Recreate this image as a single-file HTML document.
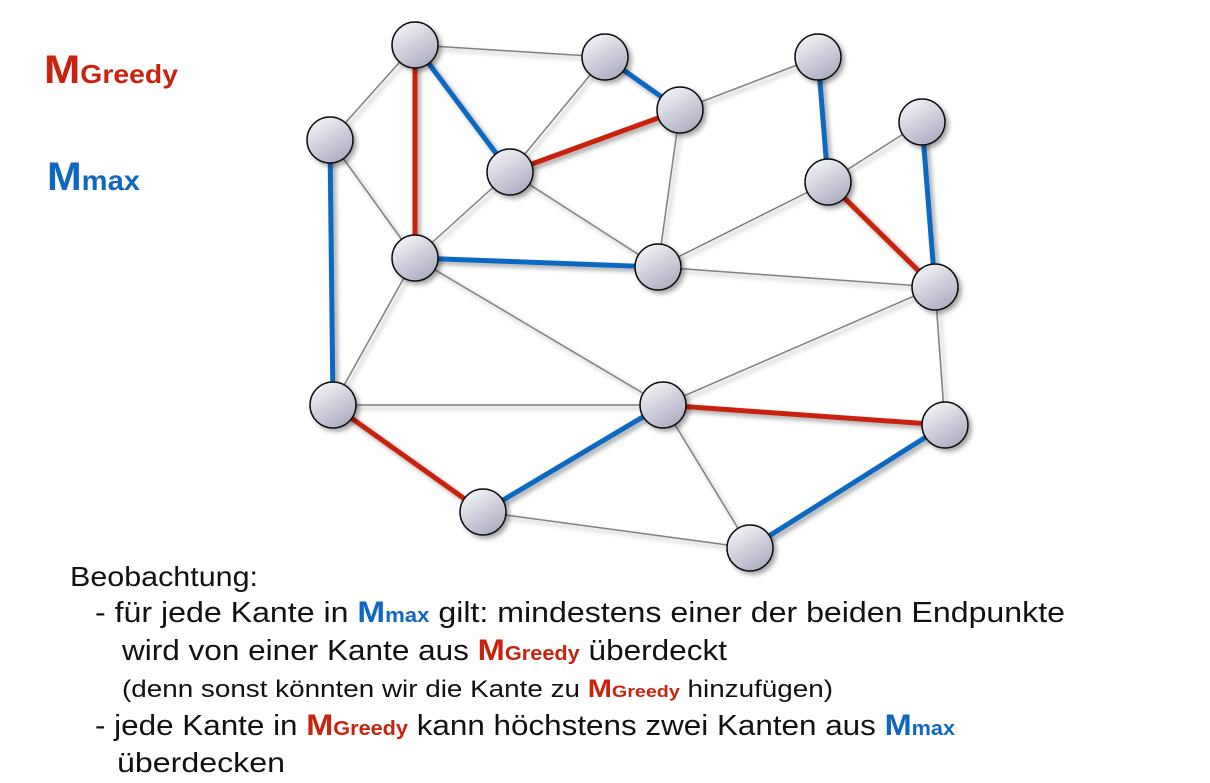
<!DOCTYPE html>
<html><head><meta charset="utf-8"><style>
html,body{margin:0;padding:0;background:#fff;}
svg{display:block;font-family:"Liberation Sans",sans-serif;}
</style></head><body>
<svg width="1210" height="783" viewBox="0 0 1210 783" xmlns="http://www.w3.org/2000/svg">
<defs>
<linearGradient id="g" x1="0.2" y1="0" x2="0.8" y2="1">
<stop offset="0" stop-color="#f4f4f8"/><stop offset="1" stop-color="#a9a9bf"/>
</linearGradient>
<filter id="s" x="-30%" y="-30%" width="170%" height="170%"><feDropShadow dx="3" dy="3" stdDeviation="2.5" flood-color="#000" flood-opacity="0.35"/></filter>
</defs>
<g stroke="#808080" stroke-width="1.5" filter="url(#s)">
<line x1="415" y1="45" x2="605" y2="57"/>
<line x1="415" y1="45" x2="330" y2="140"/>
<line x1="605" y1="57" x2="510" y2="172"/>
<line x1="680" y1="110" x2="818" y2="57"/>
<line x1="922" y1="122" x2="828" y2="182"/>
<line x1="828" y1="182" x2="658" y2="267"/>
<line x1="680" y1="110" x2="658" y2="267"/>
<line x1="510" y1="172" x2="658" y2="267"/>
<line x1="510" y1="172" x2="415" y2="258"/>
<line x1="330" y1="140" x2="415" y2="258"/>
<line x1="415" y1="258" x2="333" y2="405"/>
<line x1="415" y1="258" x2="663" y2="405"/>
<line x1="658" y1="267" x2="935" y2="287"/>
<line x1="935" y1="287" x2="663" y2="405"/>
<line x1="935" y1="287" x2="945" y2="425"/>
<line x1="333" y1="405" x2="663" y2="405"/>
<line x1="663" y1="405" x2="750" y2="548"/>
<line x1="483" y1="512" x2="750" y2="548"/>
</g>
<g stroke-width="5" filter="url(#s)">
<line x1="415" y1="45" x2="415" y2="258" stroke="#c8230e"/>
<line x1="510" y1="172" x2="680" y2="110" stroke="#c8230e"/>
<line x1="828" y1="182" x2="935" y2="287" stroke="#c8230e"/>
<line x1="333" y1="405" x2="483" y2="512" stroke="#c8230e"/>
<line x1="663" y1="405" x2="945" y2="425" stroke="#c8230e"/>
<line x1="415" y1="45" x2="510" y2="172" stroke="#0f67c2"/>
<line x1="605" y1="57" x2="680" y2="110" stroke="#0f67c2"/>
<line x1="818" y1="57" x2="828" y2="182" stroke="#0f67c2"/>
<line x1="922" y1="122" x2="935" y2="287" stroke="#0f67c2"/>
<line x1="415" y1="258" x2="658" y2="267" stroke="#0f67c2"/>
<line x1="330" y1="140" x2="333" y2="405" stroke="#0f67c2"/>
<line x1="663" y1="405" x2="483" y2="512" stroke="#0f67c2"/>
<line x1="750" y1="548" x2="945" y2="425" stroke="#0f67c2"/>
</g>
<g fill="url(#g)" stroke="#111" stroke-width="1.5" filter="url(#s)">
<circle cx="415" cy="45" r="23"/><circle cx="605" cy="57" r="23"/>
<circle cx="818" cy="57" r="23"/><circle cx="680" cy="110" r="23"/>
<circle cx="922" cy="122" r="23"/><circle cx="330" cy="140" r="23"/>
<circle cx="510" cy="172" r="23"/><circle cx="828" cy="182" r="23"/>
<circle cx="415" cy="258" r="23"/><circle cx="658" cy="267" r="23"/>
<circle cx="935" cy="287" r="23"/><circle cx="333" cy="405" r="23"/>
<circle cx="663" cy="405" r="23"/><circle cx="945" cy="425" r="23"/>
<circle cx="483" cy="512" r="23"/><circle cx="750" cy="548" r="23"/>
</g>
<text x="44" y="83" fill="#c8230e" font-weight="bold" textLength="134" lengthAdjust="spacingAndGlyphs"><tspan font-size="40">M</tspan><tspan font-size="26">Greedy</tspan></text>
<text x="47" y="190" fill="#0f67c2" font-weight="bold" textLength="93" lengthAdjust="spacingAndGlyphs"><tspan font-size="40">M</tspan><tspan font-size="28">max</tspan></text>
<g fill="#111">
<text x="70" y="586" font-size="28" textLength="188" lengthAdjust="spacingAndGlyphs">Beobachtung:</text>
<text x="95" y="622" font-size="29" textLength="970" lengthAdjust="spacingAndGlyphs">- für jede Kante in <tspan fill="#0f67c2" font-weight="bold" font-size="30">M</tspan><tspan fill="#0f67c2" font-weight="bold" font-size="20">max</tspan> gilt:  mindestens einer der beiden Endpunkte</text>
<text x="122" y="660" font-size="29" textLength="605" lengthAdjust="spacingAndGlyphs">wird von einer Kante aus <tspan fill="#c8230e" font-weight="bold" font-size="30">M</tspan><tspan fill="#c8230e" font-weight="bold" font-size="20">Greedy</tspan> überdeckt</text>
<text x="122" y="697" font-size="24" textLength="711" lengthAdjust="spacingAndGlyphs">(denn sonst könnten wir die Kante zu <tspan fill="#c8230e" font-weight="bold" font-size="25">M</tspan><tspan fill="#c8230e" font-weight="bold" font-size="17">Greedy</tspan> hinzufügen)</text>
<text x="95" y="735" font-size="29" textLength="860" lengthAdjust="spacingAndGlyphs">- jede Kante in <tspan fill="#c8230e" font-weight="bold" font-size="30">M</tspan><tspan fill="#c8230e" font-weight="bold" font-size="20">Greedy</tspan> kann höchstens zwei Kanten aus <tspan fill="#0f67c2" font-weight="bold" font-size="30">M</tspan><tspan fill="#0f67c2" font-weight="bold" font-size="20">max</tspan></text>
<text x="117" y="772" font-size="28" textLength="168" lengthAdjust="spacingAndGlyphs">überdecken</text>
</g>
</svg>
</body></html>
